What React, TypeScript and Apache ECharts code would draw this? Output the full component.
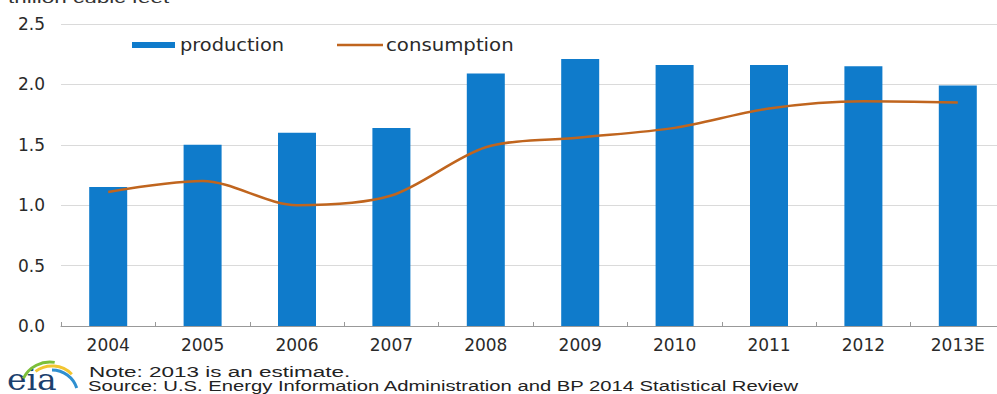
import React, { useEffect, useRef } from "react";
import * as echarts from "echarts";

const categories = ["2004", "2005", "2006", "2007", "2008", "2009", "2010", "2011", "2012", "2013E"];
const production = [1.15, 1.5, 1.6, 1.64, 2.09, 2.21, 2.16, 2.16, 2.15, 1.99];
const consumption = [1.11, 1.2, 1.0, 1.08, 1.48, 1.56, 1.64, 1.8, 1.86, 1.85];
const seriesNames = ["production", "consumption"];
const unitLabel = "trillion cubic feet";
const noteText = "Note: 2013 is an estimate.";
const sourceText = "Source: U.S. Energy Information Administration and BP 2014 Statistical Review";

const FONT = "DejaVu Sans, Liberation Sans, Arial, sans-serif";
const LIB = "Liberation Sans, Arial, sans-serif";
const BAR = "#0F7BCB";
const LINE = "#C0651E";

export default function App() {
  const ref = useRef<HTMLDivElement>(null);
  useEffect(() => {
    if (!ref.current) return;
    const chart = echarts.init(ref.current, undefined, { renderer: "svg" });
    chart.setOption({
      animation: false,
      backgroundColor: "#ffffff",
      textStyle: { fontFamily: FONT },
      grid: { left: 61, right: 5, top: 24, bottom: 68, containLabel: false },
      legend: { show: false },
      xAxis: {
        type: "category",
        data: categories,
        boundaryGap: true,
        axisLine: { lineStyle: { color: "#999", width: 1 } },
        axisTick: { show: true, length: 4, inside: true, lineStyle: { color: "#999" } },
        axisLabel: { fontSize: 17, color: "#2a2a2a", margin: 10, fontFamily: FONT },
      },
      yAxis: {
        type: "value",
        min: 0,
        max: 2.5,
        interval: 0.5,
        axisLine: { show: false },
        axisTick: { show: false },
        splitLine: { lineStyle: { color: "#dadada", width: 1 } },
        axisLabel: {
          fontSize: 17,
          color: "#2a2a2a",
          margin: 16,
          fontFamily: FONT,
          formatter: (v: number) => v.toFixed(1),
        },
      },
      series: [
        {
          name: seriesNames[0],
          type: "bar",
          data: production,
          barWidth: 38,
          itemStyle: { color: BAR },
        },
        {
          name: seriesNames[1],
          type: "line",
          data: consumption,
          smooth: 0.3,
          symbol: "none",
          lineStyle: { color: LINE, width: 2.5 },
          itemStyle: { color: LINE },
        },
      ],
      graphic: [
        {
          type: "rect",
          shape: { x: 132, y: 42, width: 43, height: 6 },
          style: { fill: BAR },
        },
        {
          type: "text",
          x: 180,
          y: 45,
          scaleX: 1.14,
          style: { text: seriesNames[0], fontSize: 17, fill: "#2a2a2a", fontFamily: FONT, textVerticalAlign: "middle" },
        },
        {
          type: "line",
          shape: { x1: 337, y1: 45, x2: 383, y2: 45 },
          style: { stroke: LINE, lineWidth: 2.5 },
        },
        {
          type: "text",
          x: 386,
          y: 45,
          scaleX: 1.16,
          style: { text: seriesNames[1], fontSize: 17, fill: "#2a2a2a", fontFamily: FONT, textVerticalAlign: "middle" },
        },
        {
          type: "text",
          x: 8,
          y: -10,
          scaleX: 1.5,
          style: { text: unitLabel, fontSize: 15, fill: "#333", fontFamily: LIB },
        },
        {
          type: "text",
          x: 89,
          y: 364,
          scaleX: 1.5,
          style: { text: noteText, fontSize: 15, fill: "#222", fontFamily: LIB },
        },
        {
          type: "text",
          x: 88,
          y: 378,
          scaleX: 1.35,
          style: { text: sourceText, fontSize: 15, fill: "#222", fontFamily: LIB },
        },
        {
          type: "text",
          x: 7,
          y: 365,
          scaleX: 1.1,
          style: { text: "eia", fontSize: 30, fill: "#1B3F6E", fontFamily: "DejaVu Serif, Liberation Serif, serif" },
        },
        {
          type: "arc",
          shape: { cx: 50, cy: 392, r: 30, startAngle: Math.PI * 1.15, endAngle: Math.PI * 1.55 },
          style: { stroke: "#7CBF3A", lineWidth: 3, fill: "none" },
        },
        {
          type: "arc",
          shape: { cx: 52, cy: 394, r: 28, startAngle: Math.PI * 1.3, endAngle: Math.PI * 1.75 },
          style: { stroke: "#F2C531", lineWidth: 3, fill: "none" },
        },
        {
          type: "arc",
          shape: { cx: 52, cy: 396, r: 26, startAngle: Math.PI * 1.5, endAngle: Math.PI * 1.9 },
          style: { stroke: "#2F8FD0", lineWidth: 3, fill: "none" },
        },
      ],
    });
    return () => chart.dispose();
  }, []);
  return (
    <div style={{ position: "absolute", left: 0, top: 0, width: 997, height: 394, overflow: "hidden", background: "#fff" }}>
      <div ref={ref} style={{ width: 1010, height: 394 }} />
    </div>
  );
}
